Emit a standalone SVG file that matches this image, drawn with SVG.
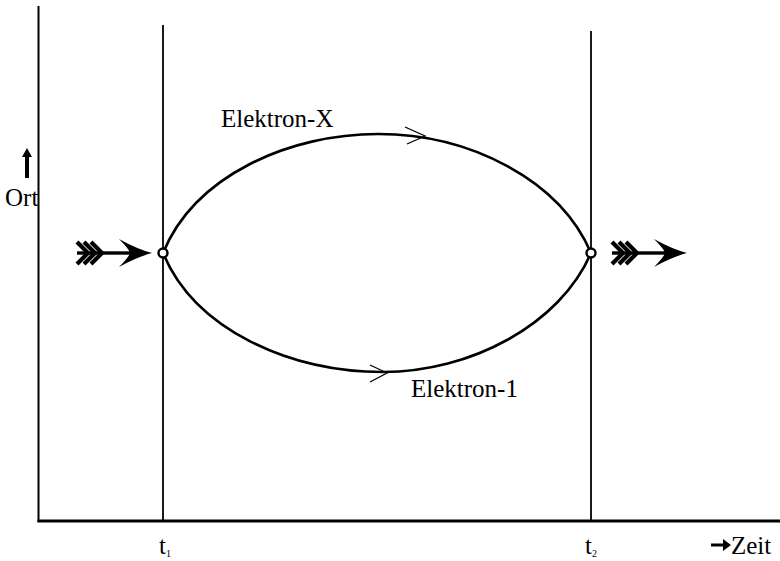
<svg xmlns="http://www.w3.org/2000/svg" width="780" height="561" viewBox="0 0 780 561">
<style>
.ax{stroke:#000;fill:none}
.curve{stroke:#000;stroke-width:2.6;fill:none}
.chev{stroke:#000;stroke-width:1.3;fill:none}
.node{fill:#fff;stroke:#000;stroke-width:2.4}
</style>
<defs>
<g id="fletched">
<rect x="-75" y="-1.7" width="60" height="3.4" fill="#000"/>
<path d="M0,0 Q-15,-4 -33,-14 Q-23,-4 -22,0 Q-23,4 -33,14 Q-15,4 0,0 Z" fill="#000"/>
<path d="M-75,-11 L-64,0 L-75,11 M-68,-11 L-57,0 L-68,11 M-61,-11 L-50,0 L-61,11" stroke="#000" stroke-width="4.2" fill="none"/>
</g>
</defs>
<g id="axes">
<line class="ax" x1="38.5" y1="6" x2="38.5" y2="522" stroke-width="2"/>
<line class="ax" x1="37.5" y1="521" x2="780" y2="521" stroke-width="3"/>
</g>
<g id="time-lines">
<line class="ax" x1="163" y1="25" x2="163" y2="521" stroke-width="1.8"/>
<line class="ax" x1="591" y1="31" x2="591" y2="521" stroke-width="1.8"/>
</g>
<g id="connectors">
<path id="electron-x" class="curve" d="M163,253 C195,175 290,134 378,134 C470,134 560,180 591,253"/>
<path id="electron-1" class="curve" d="M163,253 C195,330 290,372 383,372 C470,372 560,325 591,253"/>
<path class="chev" d="M405,127 L425,136 L407,144"/>
<path class="chev" d="M370,365 L387,373 L370,382"/>
</g>
<g id="node-t1"><circle class="node" cx="163" cy="253" r="4.5"/></g>
<g id="node-t2"><circle class="node" cx="591" cy="253" r="4.5"/></g>
<g id="arrow-in"><use href="#fletched" transform="translate(152,253)"/></g>
<g id="arrow-out"><use href="#fletched" transform="translate(687,253)"/></g>
<g id="label-ort" font-family="Liberation Serif, Times New Roman, serif" font-size="25" fill="#000">
<path d="M27,148 L32,157 L29,157 L29,178 L25,178 L25,157 L22,157 Z"/>
<text x="5" y="206">Ort</text>
</g>
<g id="labels" font-family="Liberation Serif, Times New Roman, serif" font-size="25" fill="#000">
<text x="221" y="127">Elektron-X</text>
<text x="411" y="397">Elektron-1</text>
<text x="159" y="554">t<tspan font-size="10" dy="3">1</tspan></text>
<text x="585" y="554">t<tspan font-size="10" dy="3">2</tspan></text>
<path d="M711,543.5 L723,543.5 L723,539 L731,545 L723,551 L723,546.5 L711,546.5 Z"/>
<text x="731" y="554">Zeit</text>
</g>
</svg>
